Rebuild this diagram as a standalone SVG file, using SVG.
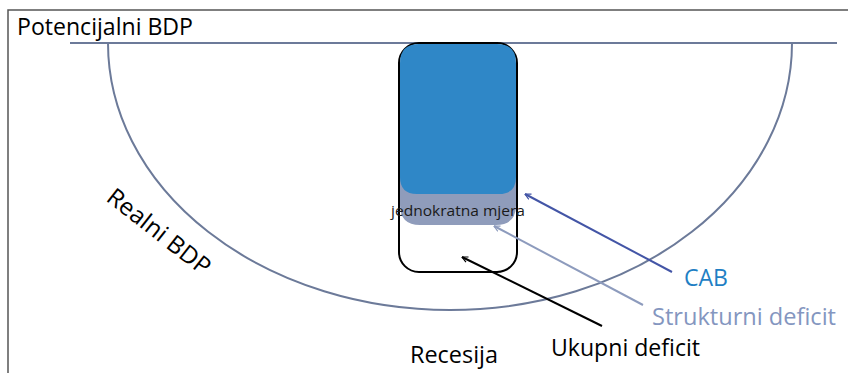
<svg xmlns="http://www.w3.org/2000/svg" width="848" height="373" viewBox="0 0 848 373">
<defs>
<style>
.lbl{font-family:"Open Sans","Liberation Sans",sans-serif;font-size:24px;}
.axis{stroke:#6C7A99;stroke-width:2;fill:none;}
.conn{stroke-width:2;fill:none;}
</style>
<marker id="ahBlue" viewBox="0 0 12 12" refX="11" refY="6" markerWidth="7" markerHeight="7" markerUnits="userSpaceOnUse" orient="auto"><path d="M1,1 L11,6 L1,11" fill="none" stroke="#4355A6" stroke-width="2"/></marker>
<marker id="ahGray" viewBox="0 0 12 12" refX="11" refY="6" markerWidth="7" markerHeight="7" markerUnits="userSpaceOnUse" orient="auto"><path d="M1,1 L11,6 L1,11" fill="none" stroke="#8D9BBD" stroke-width="2"/></marker>
<marker id="ahBlack" viewBox="0 0 12 12" refX="11" refY="6" markerWidth="7" markerHeight="7" markerUnits="userSpaceOnUse" orient="auto"><path d="M1,1 L11,6 L1,11" fill="none" stroke="#000" stroke-width="2"/></marker>
</defs>
<rect x="0" y="0" width="848" height="373" fill="#fff"/>
<rect x="8" y="10" width="860" height="380" fill="none" stroke="#555" stroke-width="1.5"/>

<g id="potencijalni">
<line class="axis" x1="70" y1="43" x2="837" y2="43"/>
<text class="lbl" x="17" y="35" textLength="176" lengthAdjust="spacingAndGlyphs" fill="#000">Potencijalni BDP</text>
</g>

<g id="realni">
<path class="axis" d="M108,43 A342,267 0 0 0 792,43"/>
<text class="lbl" transform="translate(105,200) rotate(38)" textLength="124" lengthAdjust="spacingAndGlyphs" fill="#000">Realni BDP</text>
</g>

<g id="ukupni-box">
<rect x="399" y="43" width="118" height="229" rx="20" fill="#fff" stroke="#000" stroke-width="2"/>
</g>
<g id="strukturni-box">
<path d="M400,150 L516,150 L516,205 Q516,225 496,225 L420,225 Q400,225 400,205 Z" fill="#8F9CBB"/>
</g>
<g id="cab-box">
<path d="M419,44 L497,44 Q516,44 516,63 L516,177 Q516,194 499,194 L417,194 Q400,194 400,177 L400,63 Q400,44 419,44 Z" fill="#2F87C7"/>
<text x="458" y="216" text-anchor="middle" font-family="Open Sans, Liberation Sans, sans-serif" font-size="15" textLength="134" lengthAdjust="spacingAndGlyphs" fill="#1a1a1a">jednokratna mjera</text>
</g>

<g id="connectors">
<line class="conn" x1="672" y1="272" x2="525" y2="194" stroke="#4355A6" marker-end="url(#ahBlue)"/>
<line class="conn" x1="643" y1="305" x2="494" y2="226" stroke="#8D9BBD" marker-end="url(#ahGray)"/>
<line class="conn" x1="602" y1="326" x2="462" y2="257" stroke="#000" marker-end="url(#ahBlack)"/>
</g>

<g id="cab-label"><text class="lbl" x="684" y="286" textLength="44" lengthAdjust="spacingAndGlyphs" fill="#1F7FC4">CAB</text></g>
<g id="strukturni-label"><text class="lbl" x="652" y="325" textLength="184" lengthAdjust="spacingAndGlyphs" fill="#8496C0">Strukturni deficit</text></g>
<g id="ukupni-label"><text class="lbl" x="551" y="356" textLength="149" lengthAdjust="spacingAndGlyphs" fill="#000">Ukupni deficit</text></g>
<g id="recesija"><text class="lbl" x="410" y="363" textLength="88" lengthAdjust="spacingAndGlyphs" fill="#000">Recesija</text></g>
</svg>
